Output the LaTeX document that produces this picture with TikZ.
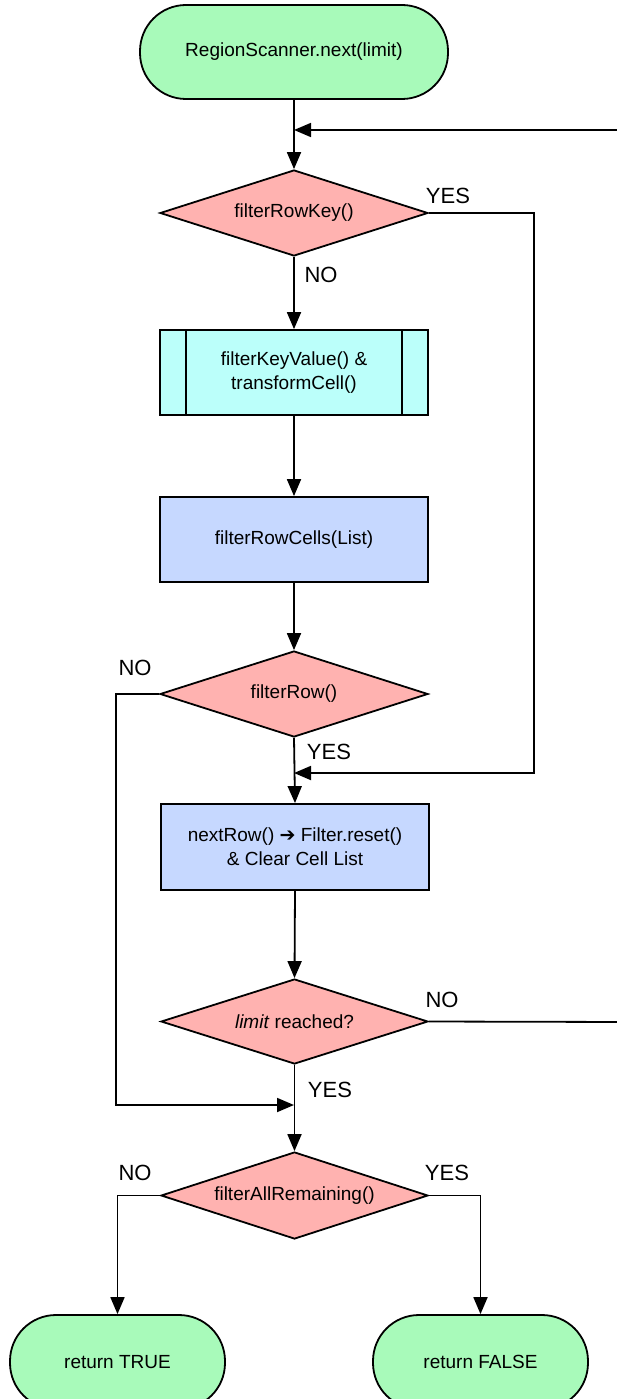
\documentclass[tikz,border=0pt]{standalone}
\usepackage{fontspec}
\setmainfont{Liberation Sans}
\newfontfamily\symfont{DejaVu Sans}
\usetikzlibrary{shapes.geometric,arrows.meta}
\definecolor{termgreen}{RGB}{168,250,186}
\definecolor{decpink}{RGB}{255,178,176}
\definecolor{subcyan}{RGB}{187,255,250}
\definecolor{procblue}{RGB}{198,216,255}
\tikzset{
  base/.style={draw=black, line width=1.8pt, inner sep=0pt, align=center,
    font=\fontsize{19}{24}\selectfont},
  terminal/.style={base, fill=termgreen, rectangle, rounded corners=46pt},
  decision/.style={base, fill=decpink, diamond, minimum width=268pt, minimum height=86pt, aspect=3.1},
  process/.style={base, fill=procblue, rectangle, minimum width=268pt, minimum height=86pt},
  subproc/.style={base, fill=subcyan, rectangle, minimum width=268pt, minimum height=85pt},
  conn/.style={line width=1.8pt, -{Triangle[length=17pt,width=14pt]}},
  lbl/.style={font=\fontsize{22}{24}\selectfont, inner sep=0pt}
}
\begin{document}
\begin{tikzpicture}[x=1pt,y=-1pt]
\useasboundingbox (0,0) rectangle (616,1399);
% nodes
\node[terminal, minimum width=308pt, minimum height=94pt] (start) at (294,52) {RegionScanner.next(limit)};
\node[decision] (d1) at (294,213) {filterRowKey()};
\node[subproc] (sub) at (294,372.5) {filterKeyValue() \&\\transformCell()};
\draw[line width=1.8pt] ([xshift=27pt]sub.north west) -- ([xshift=27pt]sub.south west);
\draw[line width=1.8pt] ([xshift=-27pt]sub.north east) -- ([xshift=-27pt]sub.south east);
\node[process, minimum height=85pt] (cells) at (294,539.5) {filterRowCells(List)};
\node[decision] (d2) at (294,694) {filterRow()};
\node[process] (nrow) at (295,847) {nextRow() {\symfont\fontsize{19}{24}\selectfont ➔} Filter.reset()\\\& Clear Cell List};
\node[decision, minimum width=267pt, minimum height=85pt] (d3) at (294.5,1021.5) {\textit{limit} reached?};
\node[decision, minimum width=267pt, minimum height=87pt] (d4) at (294.5,1195.5) {filterAllRemaining()};
\node[terminal, minimum width=215pt, minimum height=94pt] (rt) at (117.5,1362) {return TRUE};
\node[terminal, minimum width=215pt, minimum height=94pt] (rf) at (480.5,1362) {return FALSE};
% coordinates
\coordinate (e1) at (294,130);
\coordinate (e2) at (294,773);
\coordinate (e3) at (294,1105);
\coordinate (r1) at (534,773);
\coordinate (l1) at (116,1105);
\coordinate (lp1) at (632,1022);
\coordinate (lp2) at (632,130);
% connectors
\draw[conn] (start.south) -- (d1.north);
\draw[conn] (d3.east) -- (lp1) -- (lp2) -- (e1);
\draw[conn] (d1.east) -| (r1) -- (e2);
\draw[conn] (d1.south) -- (sub.north);
\draw[conn] (sub.south) -- (cells.north);
\draw[conn] (cells.south) -- (d2.north);
\draw[conn] (d2.south) -- (nrow.north);
\draw[conn] (d2.west) -| (l1) -- (e3);
\draw[conn] (nrow.south) -- (d3.north);
\draw[conn] (d3.south) -- (d4.north);
\draw[conn] (d4.west) -| (rt.north);
\draw[conn] (d4.east) -| (rf.north);
% labels
\node[lbl] (y1) at (448,196) {YES};
\node[lbl] (n1) at (321,275) {NO};
\node[lbl] (n2) at (135,668) {NO};
\node[lbl] (y2) at (329,752) {YES};
\node[lbl] (n3) at (442,1000) {NO};
\node[lbl] (y3) at (330,1090) {YES};
\node[lbl] (n4) at (135,1173) {NO};
\node[lbl] (y4) at (447,1173) {YES};
\end{tikzpicture}
\end{document}
